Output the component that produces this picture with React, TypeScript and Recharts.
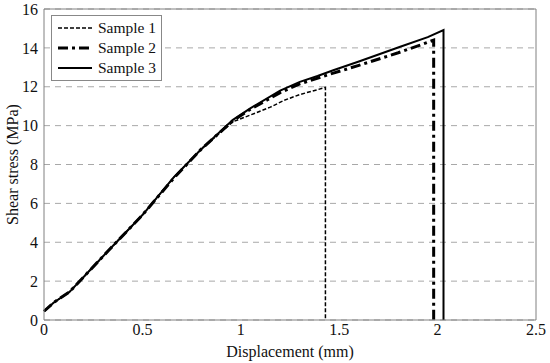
import React from 'react';
import { LineChart, Line, XAxis, YAxis, CartesianGrid } from 'recharts';

const xTicks = [0, 0.5, 1, 1.5, 2, 2.5];
const yTicks = [0, 2, 4, 6, 8, 10, 12, 14, 16];

const sample1X = [0, 0.05, 0.13, 0.2, 0.33, 0.5, 0.66, 0.8, 0.96, 1.05, 1.15, 1.22, 1.3, 1.39, 1.43, 1.43];
const sample1Y = [0.45, 0.9, 1.45, 2.2, 3.6, 5.4, 7.35, 8.8, 10.2, 10.55, 10.95, 11.3, 11.6, 11.85, 11.97, 0];

const sample2X = [0, 0.05, 0.13, 0.2, 0.33, 0.5, 0.66, 0.8, 0.96, 1.05, 1.2, 1.3, 1.47, 1.6, 1.8, 1.9, 1.98, 1.98];
const sample2Y = [0.45, 0.9, 1.45, 2.2, 3.6, 5.4, 7.3, 8.8, 10.25, 10.85, 11.7, 12.15, 12.7, 13.1, 13.75, 14.1, 14.4, 0];

const sample3X = [0, 0.05, 0.13, 0.2, 0.33, 0.5, 0.66, 0.8, 0.96, 1.05, 1.2, 1.3, 1.39, 1.47, 1.6, 1.81, 1.95, 2.03, 2.03];
const sample3Y = [0.45, 0.9, 1.45, 2.2, 3.6, 5.4, 7.35, 8.8, 10.3, 10.9, 11.8, 12.25, 12.55, 12.85, 13.3, 14.06, 14.55, 14.92, 0];

const toPoints = (xs: number[], ys: number[]) => xs.map((x, i) => ({ x, y: ys[i] }));

const series = [
  { name: 'Sample 1', data: toPoints(sample1X, sample1Y), width: 1.5, dash: '4 2' },
  { name: 'Sample 2', data: toPoints(sample2X, sample2Y), width: 3, dash: '10 4 3 4' },
  { name: 'Sample 3', data: toPoints(sample3X, sample3Y), width: 2, dash: undefined },
];

const font = "'Liberation Serif', 'Times New Roman', serif";
const axisColor = '#808080';
const tickStyle = { fill: '#111', fontSize: 16, fontFamily: font };

const LegendBox = () => (
  <div
    style={{
      position: 'absolute',
      left: 51,
      top: 15,
      border: '1px solid #888',
      background: '#fff',
      padding: '2px 5px 2px 5px',
      fontFamily: font,
      fontSize: 15.5,
      color: '#111',
      lineHeight: '20px',
    }}
  >
    {series.map(s => (
      <div key={s.name} style={{ display: 'flex', alignItems: 'center' }}>
        <svg width={36} height={20} style={{ marginRight: 5 }}>
          <line x1={1} y1={10} x2={35} y2={10} stroke="#000" strokeWidth={s.width} strokeDasharray={s.dash} />
        </svg>
        <span>{s.name}</span>
      </div>
    ))}
  </div>
);

export default function App() {
  return (
    <div style={{ position: 'absolute', left: 0, top: 0, width: 550, height: 363, fontFamily: font }}>
      <LineChart width={550} height={363} margin={{ top: 9, right: 14, left: 0, bottom: 0 }} style={{ fontFamily: font }}>
        <CartesianGrid vertical={false} horizontal stroke="#a8a8a8" strokeDasharray="6 5" />
        <XAxis
          xAxisId={0}
          type="number"
          dataKey="x"
          domain={[0, 2.5]}
          ticks={xTicks}
          tickFormatter={(v: number) => String(v)}
          height={43}
          tickLine={false}
          tickSize={2}
          tickMargin={2}
          axisLine={{ stroke: axisColor }}
          tick={tickStyle}
          label={{ value: 'Displacement (mm)', position: 'insideBottom', offset: 6, style: { fill: '#111', fontSize: 16, fontFamily: font } }}
        />
        <XAxis
          xAxisId="bin"
          type="number"
          dataKey="x"
          domain={[0, 2.5]}
          ticks={xTicks}
          mirror
          tickFormatter={() => ''}
          tickSize={5}
          tickLine={{ stroke: axisColor }}
          axisLine={false}
        />
        <XAxis
          xAxisId="top"
          orientation="top"
          type="number"
          dataKey="x"
          domain={[0, 2.5]}
          ticks={xTicks}
          mirror
          tickFormatter={() => ''}
          tickSize={5}
          tickLine={{ stroke: axisColor }}
          axisLine={{ stroke: axisColor }}
        />
        <YAxis
          yAxisId={0}
          type="number"
          domain={[0, 16]}
          ticks={yTicks}
          width={44}
          tickLine={false}
          tickSize={2}
          tickMargin={4}
          axisLine={{ stroke: axisColor }}
          tick={tickStyle}
          label={{ value: 'Shear stress (MPa)', angle: -90, position: 'insideLeft', offset: 12, style: { textAnchor: 'middle', fill: '#111', fontSize: 16, fontFamily: font } }}
        />
        <YAxis
          yAxisId="lin"
          type="number"
          domain={[0, 16]}
          ticks={yTicks}
          mirror
          tickFormatter={() => ''}
          tickSize={5}
          tickLine={{ stroke: axisColor }}
          axisLine={false}
        />
        <YAxis
          yAxisId="right"
          orientation="right"
          type="number"
          domain={[0, 16]}
          ticks={yTicks}
          mirror
          tickFormatter={() => ''}
          tickSize={5}
          tickLine={{ stroke: axisColor }}
          axisLine={{ stroke: axisColor }}
        />
        {series.map(s => (
          <Line
            key={s.name}
            data={s.data}
            dataKey="y"
            name={s.name}
            type="linear"
            stroke="#000"
            strokeWidth={s.width}
            strokeDasharray={s.dash}
            dot={false}
            activeDot={false}
            isAnimationActive={false}
          />
        ))}
      </LineChart>
      <LegendBox />
    </div>
  );
}
